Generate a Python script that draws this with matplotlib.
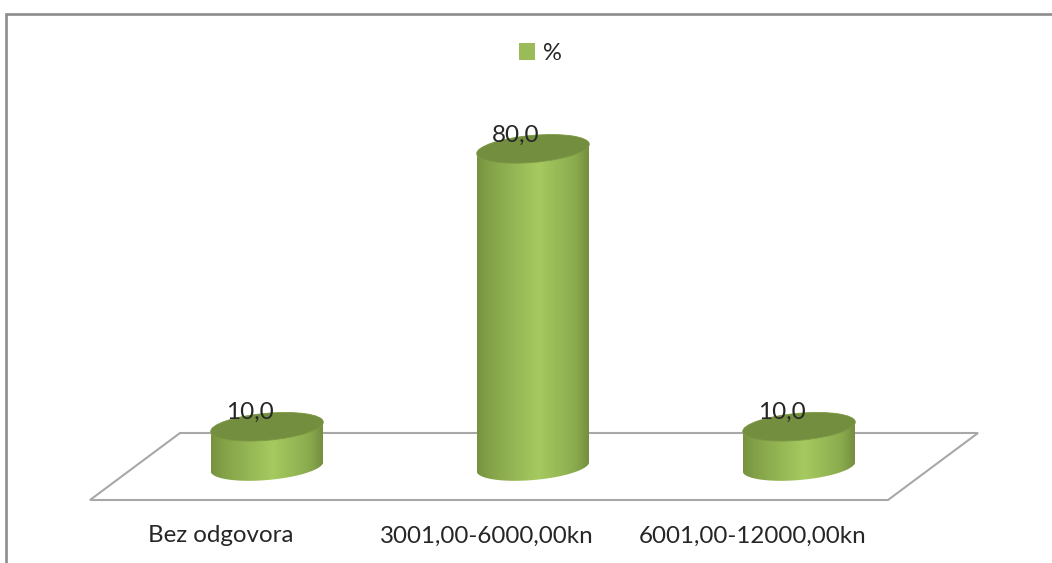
import numpy as np
import matplotlib
matplotlib.use("Agg")
import matplotlib.pyplot as plt
from matplotlib.colors import LinearSegmentedColormap
from matplotlib.lines import Line2D
from matplotlib.patches import Ellipse, Patch, Polygon
from matplotlib.transforms import IdentityTransform

categories = ["Bez odgovora", "3001,00-6000,00kn", "6001,00-12000,00kn"]
values = [10.0, 80.0, 10.0]
labels = ["10,0", "80,0", "10,0"]
series_name = "%"

W, H = 1052, 563
plt.rcParams["font.family"] = ["Lato", "DejaVu Sans"]
TEXT = "#262626"
GREY = "#a8a8a8"
Y_SCALE = 3.97
BASE_PX = 466.5
YLIM = (-(H - BASE_PX) / Y_SCALE, BASE_PX / Y_SCALE)
XLIM = (-267 / 266, (W - 267) / 266)

fig = plt.figure(figsize=(W / 100, H / 100), dpi=100, facecolor="white")
ax = fig.add_axes([0, 0, 1, 1])
ax.set_xlim(*XLIM)
ax.set_ylim(*YLIM)
ax.axis("off")
identity = IdentityTransform()


def px(x, y):
    return (x, H - y)


# chart frame
ax.add_line(Line2D(*zip(px(6, H), px(6, 13.5), px(W, 13.5)), transform=identity,
                   color="#8c8c8c", lw=1.9, solid_joinstyle="miter", zorder=1))
# floor
floor = Polygon([px(90, 500), px(888, 500), px(978, 433), px(180, 433)], closed=True,
                fill=False, edgecolor=GREY, lw=1.5, transform=identity, zorder=1)
ax.add_patch(floor)

cmap = LinearSegmentedColormap.from_list(
    "cyl",
    [(0.0, "#76923f"), (0.12, "#84a349"), (0.55, "#a6ca60"),
     (0.88, "#8aab4d"), (1.0, "#748f40")],
)
grad = np.linspace(0, 1, 256).reshape(1, -1)
half_w = 56 / 266
a, b, theta = 56.5, 13.5, np.deg2rad(5)


def ellipse_points(cx, cy, t):
    return np.column_stack([
        cx + a * np.cos(t) * np.cos(theta) - b * np.sin(t) * np.sin(theta),
        cy + a * np.cos(t) * np.sin(theta) + b * np.sin(t) * np.cos(theta),
    ])


for i, (val, lab, cat) in enumerate(zip(values, labels, categories)):
    (cx, y_base), (_, y_top) = ax.transData.transform([(i, 0), (i, val)])
    outline = np.vstack([
        ellipse_points(cx, y_base, np.linspace(np.pi, 2 * np.pi, 60)),
        ellipse_points(cx, y_top, np.linspace(0, np.pi, 60)),
    ])
    clip = Polygon(outline, closed=True, transform=identity)
    im = ax.imshow(grad, cmap=cmap, aspect="auto", zorder=3,
                   extent=(i - half_w, i + half_w, -5, val + 5))
    im.set_clip_path(clip)
    ax.add_patch(Ellipse((cx, y_top), 2 * a, 2 * b, angle=np.rad2deg(theta),
                         facecolor="#748e3f", edgecolor="#7f9a46", lw=0.6,
                         transform=identity, zorder=4))
    ax.annotate(lab, xy=(i, val), xytext=(-17, 14), xycoords="data",
                textcoords="offset pixels", ha="center", va="center",
                fontsize=17.5, color=TEXT, zorder=5)
    ax.annotate(cat, xy=(i, 0), xytext=(-46, -69.5), xycoords="data",
                textcoords="offset pixels", ha="center", va="center",
                fontsize=17.4, color=TEXT, zorder=5)

ax.set_xlim(*XLIM)
ax.set_ylim(*YLIM)

leg = ax.legend(handles=[Patch(facecolor="#9bbb59", edgecolor="none", label=series_name)],
                loc="center", bbox_to_anchor=px(540.5, 53), bbox_transform=identity,
                frameon=False, fontsize=17, handlelength=0.7, handleheight=0.7,
                handletextpad=0.35, labelcolor=TEXT, borderpad=0)

fig.savefig("out.png", dpi=100, facecolor="white")
